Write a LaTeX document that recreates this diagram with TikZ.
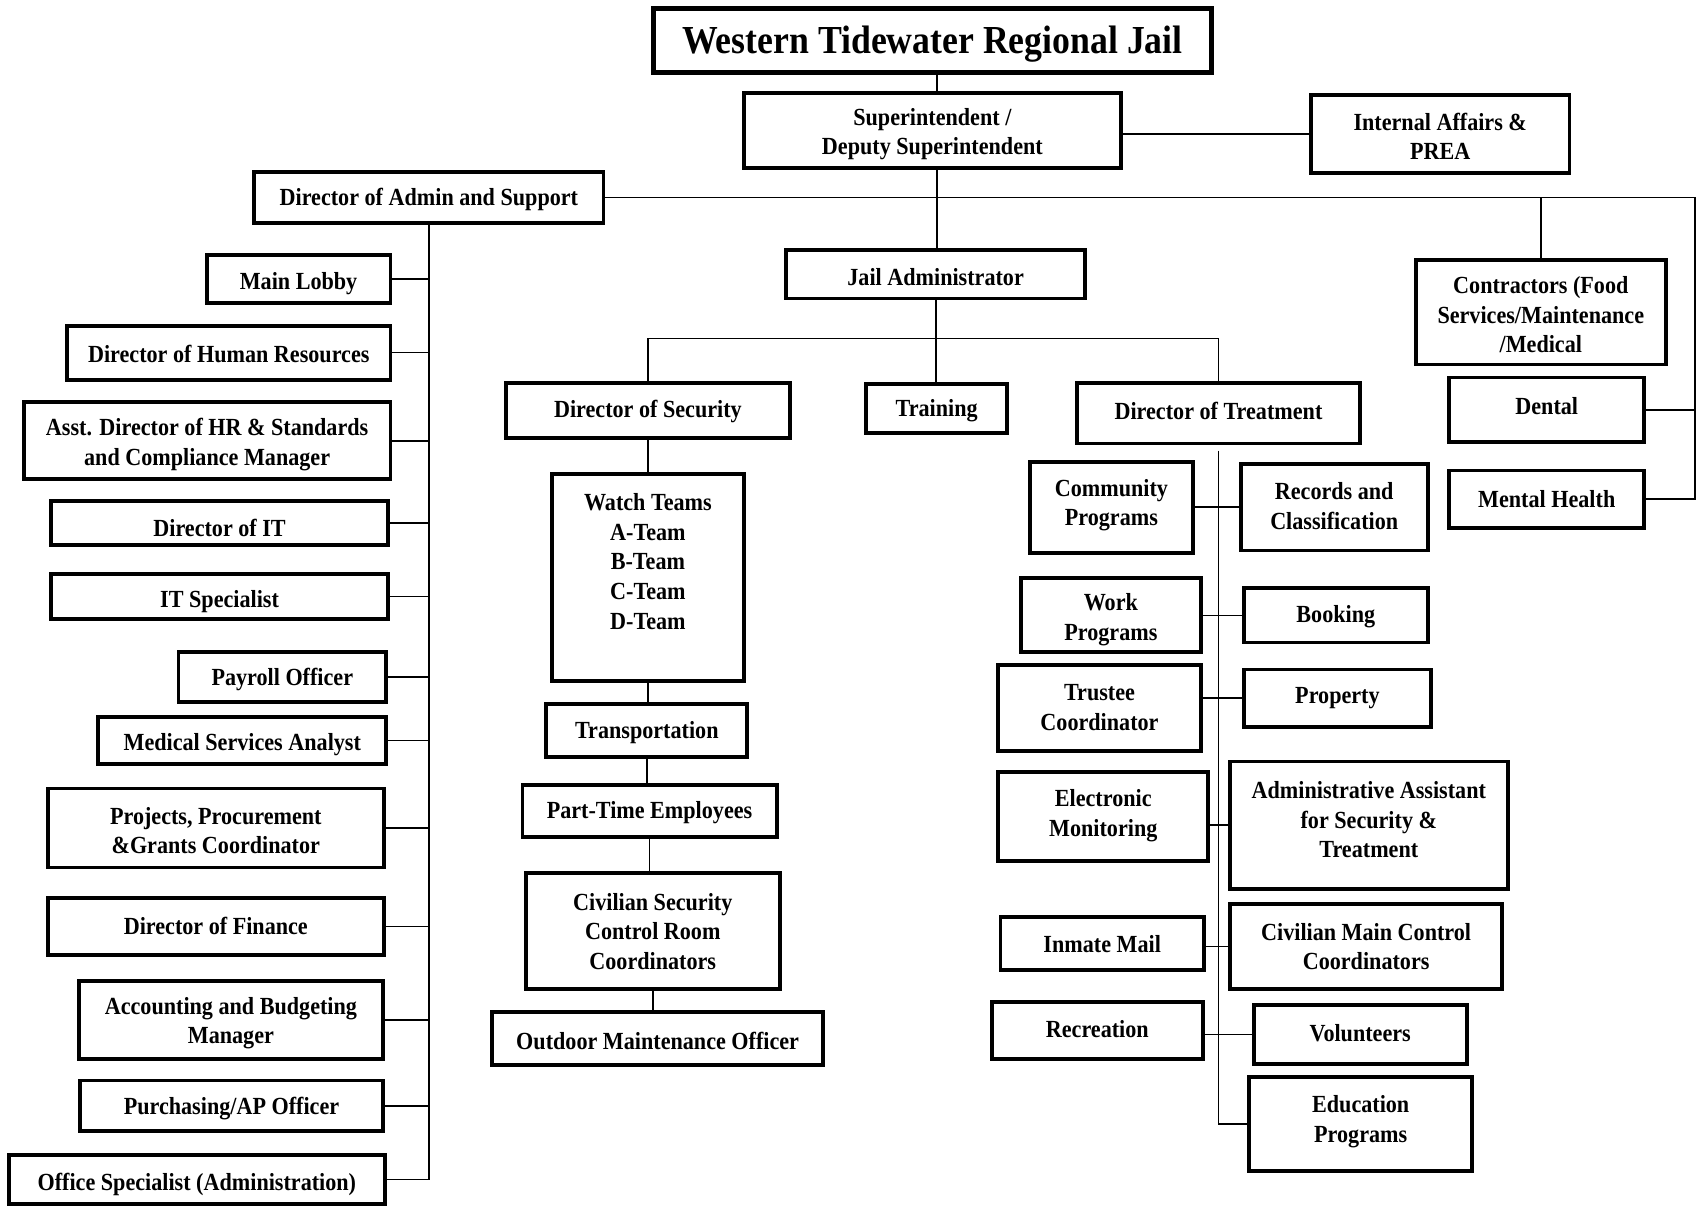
\documentclass[tikz,border=0pt]{standalone}
\usepackage{fontspec}
\setmainfont{Liberation Serif}[FakeStretch=0.9]
\usetikzlibrary{fit}

\tikzset{
  orgbox/.style={draw, line width=1.1pt, inner sep=0pt},
  orglabel/.style={font=\fontsize{7}{8.45}\selectfont\bfseries, align=center, inner sep=0pt},
  link/.style={line width=0.5pt},
}
% box from two corners, label centred at a given height
\newcommand{\jailbox}[7]{%
  \node[orgbox, fit={(#2,#3) (#4,#5)}] (#1) {};
  \node[orglabel] (#1-t) at ({(#2+#4)/2},{#6+2}) {#7};
}

\begin{document}
\begin{tikzpicture}[x=0.010816cm, y=-0.010816cm]
  \useasboundingbox (0,0) rectangle (1568,1115);

  % Top of the chart
  \node[orgbox, line width=1.4pt, fit={(604,8) (1120,67)}] (title) {};
  \node[orglabel, font=\fontsize{11.3}{13}\selectfont\bfseries] (title-t) at (862,41) {Western Tidewater Regional Jail};
  \jailbox{supt}{688}{86}{1036}{155}{122}{Superintendent /\\Deputy Superintendent}
  \jailbox{ia}{1212}{88}{1451}{160}{124}{Internal Affairs \&\\PREA}
  \jailbox{admin}{235}{159}{558}{206}{182}{Director of Admin and Support}
  \jailbox{jail}{727}{231}{1003}{276}{254}{Jail Administrator}
  \jailbox{contr}{1309}{240}{1540}{337}{289}{Contractors (Food\\Services/Maintenance\\/Medical}
  \jailbox{dental}{1340}{349}{1520}{409}{373}{Dental}
  \jailbox{mental}{1340}{435}{1520}{488}{459}{Mental Health}

  % Admin and support
  \jailbox{lobby}{191}{236}{361}{280}{260}{Main Lobby}
  \jailbox{hr}{62}{301}{361}{351}{325}{Director of Human Resources}
  \jailbox{asst}{22}{372}{361}{443}{409}{Asst. Director of HR \& Standards\\and Compliance Manager}
  \jailbox{dit}{47}{463}{359}{504}{486}{Director of IT}
  \jailbox{its}{47}{531}{359}{572}{554}{IT Specialist}
  \jailbox{pay}{165}{603}{357}{649}{626}{Payroll Officer}
  \jailbox{msa}{91}{663}{357}{706}{686}{Medical Services Analyst}
  \jailbox{proc}{44}{729}{355}{802}{766}{Projects, Procurement\\\&Grants Coordinator}
  \jailbox{fin}{44}{830}{355}{883}{854}{Director of Finance}
  \jailbox{acct}{73}{907}{354}{979}{944}{Accounting and Budgeting\\Manager}
  \jailbox{purch}{74}{999}{354}{1046}{1023}{Purchasing/AP Officer}
  \jailbox{office}{8}{1068}{356}{1113}{1093}{Office Specialist (Administration)}

  % Directors
  \jailbox{sec}{468}{354}{730}{405}{378}{Director of Security}
  \jailbox{train}{801}{355}{931}{400}{378}{Training}
  \jailbox{treat}{996}{354}{1257}{410}{378}{Director of Treatment}

  % Security
  \jailbox{watch}{510}{438}{688}{630}{517}{Watch Teams\\A-Team\\B-Team\\C-Team\\D-Team}
  \jailbox{transp}{505}{651}{691}{700}{675}{Transportation}
  \jailbox{part}{483}{726}{718}{774}{749}{Part-Time Employees}
  \jailbox{civsec}{486}{807}{721}{914}{859}{Civilian Security\\Control Room\\Coordinators}
  \jailbox{outdoor}{455}{936}{761}{985}{960}{Outdoor Maintenance Officer}

  % Treatment
  \jailbox{comm}{952}{427}{1103}{511}{465}{Community\\Programs}
  \jailbox{work}{944}{534}{1110}{603}{571}{Work\\Programs}
  \jailbox{trustee}{923}{615}{1110}{694}{652}{Trustee\\Coordinator}
  \jailbox{elec}{923}{714}{1117}{796}{752}{Electronic\\Monitoring}
  \jailbox{mail}{925}{848}{1113}{897}{871}{Inmate Mail}
  \jailbox{rec}{917}{926}{1112}{979}{949}{Recreation}
  \jailbox{records}{1147}{429}{1320}{509}{466}{Records and\\Classification}
  \jailbox{book}{1150}{544}{1320}{594}{568}{Booking}
  \jailbox{prop}{1150}{619}{1323}{672}{643}{Property}
  \jailbox{aa}{1137}{704}{1394}{822}{756}{Administrative Assistant\\for Security \&\\Treatment}
  \jailbox{civmain}{1137}{836}{1389}{914}{873}{Civilian Main Control\\Coordinators}
  \jailbox{vol}{1159}{929}{1356}{984}{953}{Volunteers}
  \jailbox{edu}{1155}{996}{1361}{1083}{1035}{Education\\Programs}

  % Lines
  \coordinate (spine) at (866,0);
  \coordinate (redge) at (1567,0);
  \coordinate (jbus) at (0,313);
  \draw[link] (title.south -| spine) -- (supt.north -| spine);
  \draw[link] (ia.west) -- (ia.west -| supt.east);
  \draw[link] (supt.south -| spine) -- (jail.north -| spine);
  \draw[link] (admin.east) -- (admin.east -| redge) -- (mental.east -| redge) -- (mental.east);
  \draw[link] (dental.east) -- (dental.east -| redge);
  \draw[link] (contr.north) -- (contr.north |- admin.east);

  \draw[link] (admin.south) -- (admin.south |- office.east) -- (office.east);
  \foreach \b in {lobby,hr,asst,dit,its,pay,msa,proc,fin,acct,purch}
    \draw[link] (\b.east) -- (\b.east -| admin.south);

  \draw[link] (jail.south) -- (jail.south |- train.north);
  \draw[link] (sec.north) -- (sec.north |- jbus) -- (treat.north |- jbus) -- (treat.north);

  \foreach \a/\b in {sec/watch, watch/transp, transp/part, part/civsec, civsec/outdoor}
    \draw[link] (\a.south) -- (\a.south |- \b.north);

  \draw[link] ([yshift=-1.5pt]treat.south) -- (treat.south |- edu.west) -- (edu.west);
  \foreach \l/\r in {comm/records, work/book, trustee/prop, elec/aa, mail/civmain, rec/vol}
    \draw[link] (\r.west) -- (\r.west -| \l.east);
\end{tikzpicture}
\end{document}
